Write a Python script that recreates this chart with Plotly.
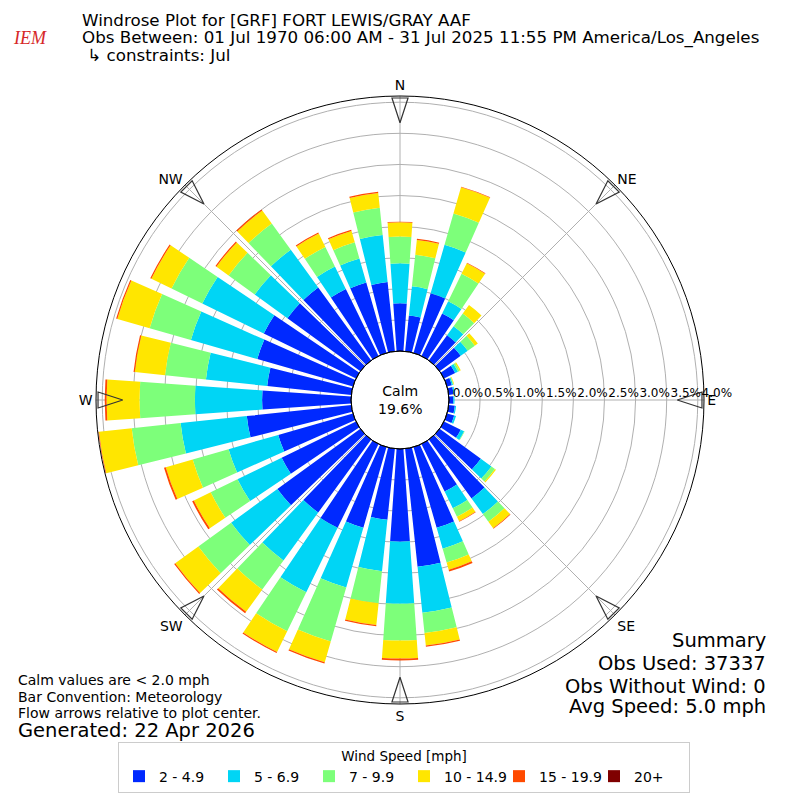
import plotly.graph_objects as go

# wind direction bins (deg, meteorological)
directions = [0, 10, 20, 30, 40, 50, 60, 70, 80, 90, 100, 110,
              120, 130, 140, 150, 160, 170, 180, 190, 200, 210, 220, 230,
              240, 250, 260, 270, 280, 290, 300, 310, 320, 330, 340, 350]

# frequency [%] per speed bin
spd_2_5 = [0.77, 0.58, 1.00, 0.76, 0.50, 0.42, 0.20, 0.08, 0.08, 0.07, 0.10, 0.12,
           0.30, 0.82, 1.17, 0.85, 1.35, 1.91, 1.49, 1.15, 1.35, 1.50, 1.45, 1.65,
           1.33, 1.25, 1.69, 1.43, 1.36, 1.60, 1.65, 1.45, 1.45, 1.20, 1.18, 1.12]
spd_5_7 = [0.64, 0.47, 0.81, 0.22, 0.18, 0.14, 0.05, 0.02, 0.02, 0.02, 0.02, 0.03,
           0.06, 0.21, 0.31, 0.30, 0.35, 0.74, 1.00, 0.83, 1.00, 1.15, 0.95, 0.92,
           0.79, 0.83, 1.07, 1.08, 0.99, 1.11, 1.10, 0.65, 0.75, 0.40, 0.40, 0.76]
spd_7_10 = [0.43, 0.51, 0.52, 0.49, 0.25, 0.14, 0.03, 0.01, 0.00, 0.00, 0.00, 0.00,
            0.01, 0.07, 0.15, 0.15, 0.23, 0.33, 0.59, 0.52, 0.90, 0.70, 0.58, 0.65,
            0.48, 0.60, 0.79, 0.89, 0.66, 0.69, 0.55, 0.52, 0.52, 0.35, 0.27, 0.44]
spd_10_15 = [0.23, 0.24, 0.44, 0.19, 0.17, 0.06, 0.02, 0.01, 0.00, 0.00, 0.00, 0.00,
             0.00, 0.02, 0.13, 0.08, 0.12, 0.20, 0.29, 0.35, 0.35, 0.37, 0.44, 0.46,
             0.30, 0.45, 0.53, 0.53, 0.49, 0.54, 0.36, 0.24, 0.26, 0.24, 0.19, 0.24]
spd_15_20 = [0.01, 0.02, 0.01, 0.01, 0.00, 0.00, 0.00, 0.00, 0.00, 0.00, 0.00, 0.00,
             0.00, 0.00, 0.01, 0.01, 0.03, 0.02, 0.03, 0.02, 0.02, 0.02, 0.03, 0.02,
             0.03, 0.03, 0.01, 0.03, 0.02, 0.02, 0.02, 0.02, 0.02, 0.02, 0.02, 0.02]
spd_20p = [0.0] * 36

bin_labels = ["2 - 4.9", "5 - 6.9", "7 - 9.9", "10 - 14.9", "15 - 19.9", "20+"]
bin_colors = ["#0029ff", "#00d5f5", "#7dff7a", "#ffe600", "#ff4a00", "#7f0000"]

compass = ["N", "NE", "E", "SE", "S", "SW", "W", "NW"]
compass_deg = [0, 45, 90, 135, 180, 225, 270, 315]

rticks = [0.0, 0.5, 1.0, 1.5, 2.0, 2.5, 3.0, 3.5, 4.0]

calm_pct = 19.6
FONT = "DejaVu Sans"
# the page body has an 8px margin, so the figure is 792 wide and all
# positions below are given in window pixels
OFF = 8
W = H = 800 - OFF


def px(x):
    return (x - OFF) / W


def py(y):
    return 1 - (y - OFF) / H


fig = go.Figure()
for vals, lab, col in zip([spd_2_5, spd_5_7, spd_7_10, spd_10_15, spd_15_20, spd_20p],
                          bin_labels, bin_colors):
    fig.add_trace(go.Barpolar(
        r=vals, theta=directions, width=8, name=lab,
        marker=dict(color=col, line=dict(width=0)),
    ))

# flow arrows at the compass points (tip of the arrow is the marker point)
fig.add_trace(go.Scatterpolar(
    r=[3.67] * len(compass_deg), theta=compass_deg, mode="markers",
    marker=dict(symbol="arrow-open", size=26, color="#333333",
                angle=[d + 180 for d in compass_deg], line=dict(width=1.2)),
    showlegend=False, hoverinfo="skip",
))

nb = "\u00a0" * 10
fig.update_layout(
    width=W, height=H,
    margin=dict(l=0, r=0, t=0, b=0),
    paper_bgcolor="white",
    font=dict(family=FONT, size=14, color="black"),
    polar=dict(
        domain=dict(x=[px(96), px(704)], y=[py(704), py(96)]),
        hole=0.161,
        bgcolor="white",
        barmode="stack",
        bargap=0,
        radialaxis=dict(
            range=[0, 4.1], tickvals=rticks,
            ticktext=[nb + f"{v:.1f}%" for v in rticks],
            angle=0, tickangle=0, side="counterclockwise",
            showline=False, ticks="", gridcolor="#b0b0b0", gridwidth=1,
            tickfont=dict(size=12, family=FONT),
        ),
        angularaxis=dict(
            rotation=90, direction="clockwise",
            tickvals=compass_deg, ticktext=compass, ticks="",
            showline=True, linecolor="black", linewidth=1,
            gridcolor="#b0b0b0", gridwidth=1,
            tickfont=dict(size=14, family=FONT),
        ),
    ),
    legend=dict(
        orientation="h", x=0.5, xanchor="center", y=py(742), yanchor="top",
        bordercolor="#cccccc", borderwidth=1,
        title=dict(text="Wind Speed [mph]", side="top center", font=dict(size=13.5)),
        font=dict(size=14), entrywidth=50,
    ),
)

# calm circle outline
fig.add_shape(type="circle", xref="paper", yref="paper",
              x0=px(351), x1=px(449), y0=py(449), y1=py(351),
              line=dict(color="black", width=1))

ann = []
# titles
titles = ["Windrose Plot for [GRF] FORT LEWIS/GRAY AAF",
          "Obs Between: 01 Jul 1970 06:00 AM - 31 Jul 2025 11:55 PM America/Los_Angeles",
          " \u21b3 constraints: Jul"]
for t, yy in zip(titles, [20, 37, 55]):
    ann.append(dict(text=t, x=px(80), y=py(yy), xanchor="left", yanchor="middle",
                    font=dict(size=16.7)))
ann.append(dict(text="<i>IEM</i>", x=px(30), y=py(38), xanchor="center", yanchor="middle",
                font=dict(family="Liberation Serif", size=18, color="#d62728")))
ann.append(dict(text=f"Calm<br>{calm_pct:.1f}%", x=px(400), y=py(400), xanchor="center",
                yanchor="middle", font=dict(size=14)))
notes = ["Calm values are < 2.0 mph", "Bar Convention: Meteorology",
         "Flow arrows relative to plot center."]
for t, yy in zip(notes, [680, 697, 713]):
    ann.append(dict(text=t, x=px(16), y=py(yy), xanchor="left", yanchor="middle",
                    font=dict(size=14)))
ann.append(dict(text="Generated: 22 Apr 2026", x=px(16), y=py(730), xanchor="left",
                yanchor="middle", font=dict(size=19.5)))
summary = ["Summary", "Obs Used: 37337", "Obs Without Wind: 0", "Avg Speed: 5.0 mph"]
for t, yy in zip(summary, [640, 663, 686, 706]):
    ann.append(dict(text=t, x=px(768), y=py(yy), xanchor="right", yanchor="middle",
                    font=dict(size=19.5)))
for a in ann:
    a.update(xref="paper", yref="paper", showarrow=False)
fig.update_layout(annotations=ann)

fig.write_html("out.html")
